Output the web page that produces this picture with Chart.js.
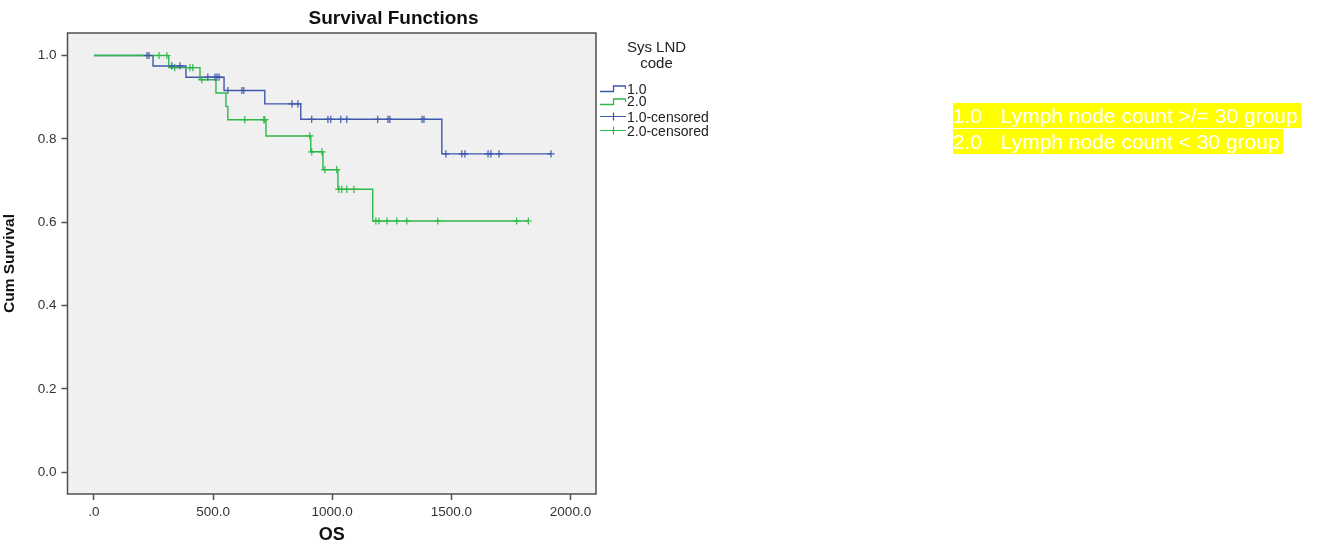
<!DOCTYPE html>
<html>
<head>
<meta charset="utf-8">
<script src="https://cdn.jsdelivr.net/npm/chart.js@4.4.0/dist/chart.umd.min.js"></script>
<style>
  html, body { margin: 0; padding: 0; background: #fff; }
  body { width: 1317px; height: 546px; position: relative; overflow: hidden; font-family: "Liberation Sans", Arial, sans-serif; }
  #wrap { position: absolute; left: 0; top: 0; width: 787px; height: 546px; }
  #legendTitle { position: absolute; left: 598px; top: 39px; width: 117px; text-align: center; font-size: 15px; line-height: 16px; color: #222; }
  .legRow { position: absolute; left: 600px; height: 15px; display: flex; align-items: center; font-size: 14px; color: #222; white-space: nowrap; }
  .legRow svg { display: block; margin-right: 1px; }
  .note { position: absolute; left: 953px; height: 25px; line-height: 25px; background: #ffff00; color: #fff; font-size: 21px; white-space: nowrap; padding-right: 3px; }
  .note span { display: inline-block; width: 48px; }
</style>
</head>
<body>
<div id="wrap"><canvas id="survChart" width="787" height="546"></canvas></div>

<div id="legendTitle">Sys LND<br>code</div>
<div class="legRow" style="top:81px">
  <svg width="26" height="15"><path d="M0 10.5 H13.5 V5 H25.5 V8" fill="none" stroke="#3e58ac" stroke-width="1.3"/></svg>1.0
</div>
<div class="legRow" style="top:93.5px">
  <svg width="26" height="15"><path d="M0 10.5 H13.5 V5 H25.5 V8" fill="none" stroke="#2eb848" stroke-width="1.3"/></svg>2.0
</div>
<div class="legRow" style="top:109px">
  <svg width="26" height="15"><path d="M0 7.5 H26 M13.5 3.5 V11.5" fill="none" stroke="#3e58ac" stroke-width="1.2"/></svg>1.0-censored
</div>
<div class="legRow" style="top:123px">
  <svg width="26" height="15"><path d="M0 7.5 H26 M13.5 3.5 V11.5" fill="none" stroke="#2eb848" stroke-width="1.2"/></svg>2.0-censored
</div>

<div class="note" style="top:102.5px"><span>1.0</span>Lymph node count &gt;/= 30 group</div>
<div class="note" style="top:129px"><span>2.0</span>Lymph node count &lt; 30 group</div>

<script>
// group 1.0 (count >= 30): event times and survival after each step
const blueTimes = [0, 248, 386, 546, 717, 868, 1460, 1918];
const blueSurv = [1.0, 0.975, 0.948, 0.916, 0.884, 0.847, 0.764, 0.764];
const blueCensored = [223, 231, 327, 361, 478, 508, 516, 525, 562, 621, 629, 831, 856,
  914, 982, 994, 1036, 1061, 1191, 1234, 1242, 1377, 1385, 1477, 1544, 1557, 1654, 1666, 1700, 1918];

// group 2.0 (count < 30)
const greenTimes = [0, 314, 445, 512, 554, 562, 722, 910, 961, 1024, 1170, 1823];
const greenSurv = [1.0, 0.971, 0.942, 0.910, 0.878, 0.846, 0.807, 0.769, 0.726, 0.679, 0.603, 0.603];
const greenCensored = [273, 306, 339, 403, 415, 453, 633, 713, 717, 906, 914, 957, 969,
  1019, 1028, 1040, 1061, 1091, 1183, 1196, 1230, 1271, 1313, 1443, 1774, 1823];

const xTickValues = [0, 500, 1000, 1500, 2000];
const xTickLabels = [".0", "500.0", "1000.0", "1500.0", "2000.0"];
const yTickValues = [0, 0.2, 0.4, 0.6, 0.8, 1.0];
const yTickLabels = ["0.0", "0.2", "0.4", "0.6", "0.8", "1.0"];

const BLUE = "#3e58ac";
const GREEN = "#2eb848";
const FRAME = "#505050";

// survival value of the step curve at time t
function survAt(times, surv, t) {
  let s = surv[0];
  for (let i = 0; i < times.length; i++) {
    if (times[i] <= t) s = surv[i];
  }
  return s;
}

const toPoints = (times, surv) => times.map((t, i) => ({ x: t, y: surv[i] }));
const toMarks = (cens, times, surv) => cens.map((t) => ({ x: t, y: survAt(times, surv, t) }));

// grey plot background + dark frame round the plot area
const plotFrame = {
  id: "plotFrame",
  beforeDraw(chart) {
    const { ctx, chartArea: a } = chart;
    ctx.save();
    ctx.fillStyle = "#f0f0f0";
    ctx.fillRect(a.left, a.top, a.right - a.left, a.bottom - a.top);
    ctx.restore();
  },
  afterDraw(chart) {
    const { ctx, chartArea: a } = chart;
    ctx.save();
    ctx.strokeStyle = FRAME;
    ctx.lineWidth = 1.5;
    ctx.strokeRect(a.left, a.top, a.right - a.left, a.bottom - a.top);
    ctx.restore();
  },
};

Chart.defaults.font.family = '"Liberation Sans", Arial, sans-serif';
Chart.defaults.color = "#333";

new Chart(document.getElementById("survChart").getContext("2d"), {
  type: "line",
  data: {
    datasets: [
      {
        label: "1.0-censored",
        data: toMarks(blueCensored, blueTimes, blueSurv),
        showLine: false,
        pointStyle: "cross",
        pointRadius: 3.6,
        borderColor: BLUE,
        borderWidth: 1.2,
        order: 0,
      },
      {
        label: "2.0-censored",
        data: toMarks(greenCensored, greenTimes, greenSurv),
        showLine: false,
        pointStyle: "cross",
        pointRadius: 3.6,
        borderColor: GREEN,
        borderWidth: 1.2,
        order: 0,
      },
      {
        label: "2.0",
        data: toPoints(greenTimes, greenSurv),
        stepped: "before",
        borderColor: GREEN,
        borderWidth: 1.4,
        pointRadius: 0,
        fill: false,
        order: 1,
      },
      {
        label: "1.0",
        data: toPoints(blueTimes, blueSurv),
        stepped: "before",
        borderColor: BLUE,
        borderWidth: 1.4,
        pointRadius: 0,
        fill: false,
        order: 2,
      },
    ],
  },
  options: {
    responsive: false,
    animation: false,
    layout: { padding: 0 },
    scales: {
      x: {
        type: "linear",
        min: -111,
        max: 2107,
        afterBuildTicks: (scale) => { scale.ticks = xTickValues.map((v) => ({ value: v })); },
        afterFit: (scale) => { scale.height = 52; },
        ticks: {
          autoSkip: false,
          maxRotation: 0,
          padding: 4,
          color: "#333",
          font: { size: 13.5 },
          callback: (v) => xTickLabels[xTickValues.indexOf(v)],
        },
        grid: { drawOnChartArea: false, drawTicks: true, tickLength: 6, color: FRAME, tickWidth: 1.5 },
        border: { display: false },
        title: { display: true, text: "OS", color: "#111", font: { size: 18, weight: "bold" }, padding: { top: 0, bottom: 0 } },
      },
      y: {
        type: "linear",
        min: -0.052,
        max: 1.054,
        afterBuildTicks: (scale) => { scale.ticks = yTickValues.map((v) => ({ value: v })); },
        afterFit: (scale) => { scale.width = 67.5; },
        ticks: {
          autoSkip: false,
          padding: 5,
          color: "#333",
          font: { size: 13.5 },
          callback: (v) => yTickLabels[yTickValues.indexOf(v)],
        },
        grid: { drawOnChartArea: false, drawTicks: true, tickLength: 6, color: FRAME, tickWidth: 1.5 },
        border: { display: false },
        title: { display: true, text: "Cum Survival", color: "#111", font: { size: 15.5, weight: "bold" }, padding: { top: 0, bottom: 0 } },
      },
      // empty right-hand box that keeps room for the legend without shifting the title
      legendSpace: {
        type: "linear",
        position: "right",
        min: 0,
        max: 1,
        afterFit: (scale) => { scale.width = 191; },
        ticks: { display: false },
        grid: { display: false },
        border: { display: false },
      },
    },
    plugins: {
      legend: { display: false },
      tooltip: { enabled: false },
      title: {
        display: true,
        text: "Survival Functions",
        color: "#111",
        font: { size: 19, weight: "bold" },
        padding: { top: 7.6, bottom: 2.6 },
      },
    },
  },
  plugins: [plotFrame],
});
</script>
</body>
</html>
